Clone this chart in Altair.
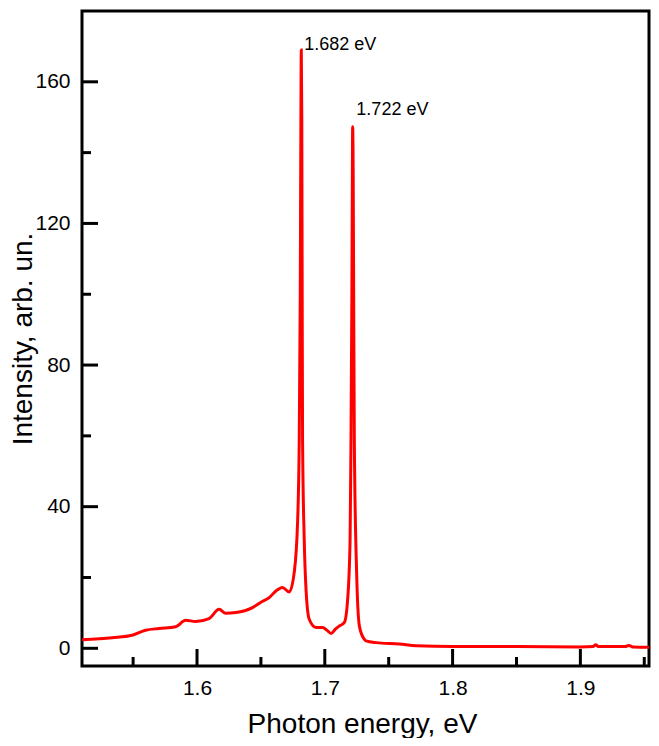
import altair as alt
import pandas as pd

energy = [1.510, 1.5336, 1.5493, 1.5598, 1.5702, 1.5833, 1.5911, 1.5990, 1.6094,
          1.6173, 1.6225, 1.6304, 1.6434, 1.6500, 1.6565, 1.6617, 1.6669, 1.6722,
          1.6761, 1.6787, 1.6800, 1.6808, 1.6813, 1.6816, 1.6820, 1.6823, 1.6826,
          1.6839, 1.6853, 1.6878, 1.6931, 1.6983, 1.7020, 1.7049, 1.7085, 1.7114,
          1.7153, 1.7179, 1.7198, 1.7205, 1.7212, 1.7216, 1.7218, 1.7222, 1.7226,
          1.7231, 1.7249, 1.7271, 1.7310, 1.7323, 1.7402, 1.7584, 1.7715, 1.800,
          1.850, 1.900, 1.910, 1.912, 1.914, 1.935, 1.938, 1.941, 1.960]
intensity = [2.4, 3.0, 3.7, 5.1, 5.6, 6.1, 7.9, 7.6, 8.4,
             11.0, 9.9, 10.1, 11.5, 13.0, 14.3, 16.2, 17.2, 15.9,
             21.5, 35.6, 59.0, 100.0, 150.0, 169.0, 150.0, 100.0, 59.0,
             30.8, 16.7, 8.2, 5.9, 5.9, 5.0, 4.2, 5.5, 6.3,
             7.3, 13.9, 30.8, 59.0, 100.0, 135.0, 147.3, 135.0, 100.0,
             59.0, 21.5, 6.2, 2.5, 2.1, 1.6, 1.2, 0.7, 0.5,
             0.5, 0.4, 0.5, 1.0, 0.5, 0.5, 0.8, 0.4, 0.3]

peak_x = [1.6839, 1.7247]
peak_y = [170.5, 152.0]
peak_labels = ["1.682 eV", "1.722 eV"]

x_major = [1.6, 1.7, 1.8, 1.9]
x_minor = [1.55, 1.65, 1.75, 1.85, 1.95]
y_major = [0, 40, 80, 120, 160]
y_minor = [20, 60, 100, 140]

W, H = 567, 655
FONT = "Liberation Sans"

df = pd.DataFrame({"e": energy, "i": intensity})
lab = pd.DataFrame({"e": peak_x, "i": peak_y, "t": peak_labels})

xs = alt.Scale(domain=[1.51, 1.9537], nice=False, zero=False)
ys = alt.Scale(domain=[-5, 180], nice=False, zero=False)

line = alt.Chart(df).mark_line(color="#ff0000", strokeWidth=3, interpolate="monotone",
                               clip=True).encode(
    x=alt.X("e:Q", scale=xs, title="Photon energy, eV",
            axis=alt.Axis(values=x_major, format=".1f", ticks=False, domain=False, grid=False,
                          labelFontSize=21, labelPadding=11, titleFontSize=28,
                          titleFontWeight="normal", titleBaseline="alphabetic",
                          titleX=280, titleY=66, labelColor="black",
                          titleColor="black", labelFont=FONT, titleFont=FONT)),
    y=alt.Y("i:Q", scale=ys, title="Intensity, arb. un.",
            axis=alt.Axis(values=y_major, ticks=False, domain=False, grid=False,
                          labelFontSize=21, labelPadding=12, titleFontSize=28,
                          titleFontWeight="normal", titleBaseline="alphabetic",
                          titleX=-51, titleY=H / 2, labelColor="black",
                          titleColor="black", labelFont=FONT, titleFont=FONT)),
)

text = alt.Chart(lab).mark_text(align="left", baseline="middle", fontSize=18,
                                font=FONT, color="black").encode(
    x=alt.X("e:Q", scale=xs), y=alt.Y("i:Q", scale=ys), text="t:N")

def xticks(vals, size):
    return alt.Chart(pd.DataFrame({"xt": vals})).mark_tick(
        color="black", orient="vertical", size=2 * size, thickness=3, clip=True, opacity=1).encode(
        x=alt.X("xt:Q", scale=xs), y=alt.value(H))

def yticks(vals, size):
    return alt.Chart(pd.DataFrame({"yt": vals})).mark_tick(
        color="black", orient="horizontal", size=2 * size, thickness=3, clip=True, opacity=1).encode(
        y=alt.Y("yt:Q", scale=ys), x=alt.value(0))

chart = alt.layer(
    line, text,
    xticks(x_major, 17), xticks(x_minor, 9),
    yticks(y_major, 16), yticks(y_minor, 9),
).properties(
    width=W, height=H,
    background="white",
    autosize=alt.AutoSizeParams(type="none"),
    padding={"left": 74, "top": 3, "right": 2, "bottom": 72},
).configure_view(stroke="black", strokeWidth=3)

chart.save("out.html", embed_options={"renderer": "svg", "actions": False})
